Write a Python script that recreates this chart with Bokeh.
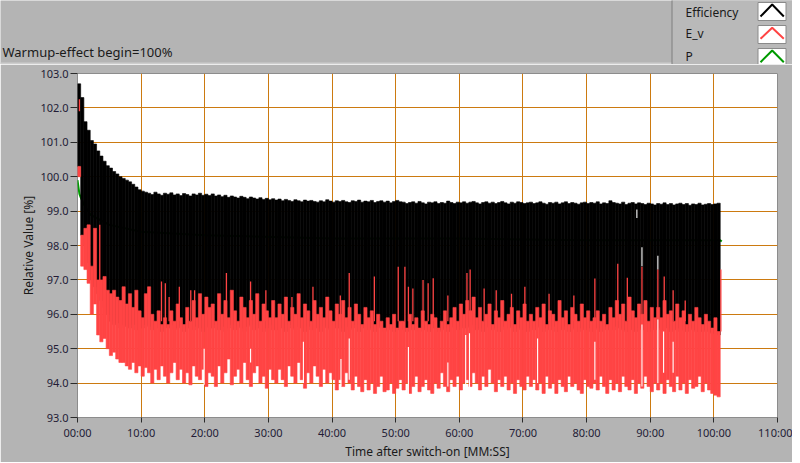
import numpy as np
from bokeh.plotting import figure
from bokeh.layouts import column
from bokeh.models import Range1d, FixedTicker
from bokeh.core.properties import value
from bokeh.embed import file_html
from bokeh.resources import INLINE

# ---------------- data ----------------
BIN = 0.5  # minutes per column

# Efficiency (black) upper envelope per half-minute column
eff_hi = [
    102.70, 102.30, 101.60, 101.35, 101.05, 100.95, 100.75, 100.60, 100.45, 100.32,
    100.25, 100.15, 100.08, 100.00, 99.95, 99.90, 99.85, 99.78, 99.70, 99.62, 99.58, 99.55,
    99.52, 99.48, 99.55, 99.50, 99.46, 99.52, 99.49, 99.53, 99.47, 99.50, 99.45, 99.51, 99.48, 99.44, 99.50, 99.47, 99.52, 99.46, 99.49, 99.45,
    99.50, 99.44, 99.47, 99.42, 99.46, 99.40, 99.44, 99.41, 99.38, 99.43, 99.40, 99.36, 99.41, 99.38, 99.35, 99.39, 99.34, 99.37, 99.33, 99.36,
    99.32, 99.35, 99.30, 99.34, 99.31, 99.28, 99.33, 99.30, 99.27, 99.32, 99.29, 99.31, 99.28, 99.26, 99.30, 99.27, 99.33, 99.29, 99.26, 99.30,
    99.28, 99.31, 99.27, 99.25, 99.30, 99.28, 99.32, 99.26, 99.29, 99.27, 99.31, 99.25, 99.28, 99.30, 99.26, 99.29, 99.24, 99.28, 99.31, 99.27,
    99.26, 99.22, 99.25, 99.27, 99.23, 99.28, 99.24, 99.21, 99.26, 99.24, 99.27, 99.22, 99.25, 99.23, 99.29, 99.25, 99.22, 99.26, 99.24, 99.27,
    99.23, 99.26, 99.28, 99.24, 99.21, 99.25, 99.27, 99.23, 99.26, 99.22, 99.25, 99.28, 99.24, 99.21, 99.26, 99.23, 99.27, 99.25, 99.22, 99.24,
    99.26, 99.22, 99.24, 99.27, 99.23, 99.20, 99.25, 99.23, 99.26, 99.21, 99.24, 99.27, 99.22, 99.25, 99.23, 99.20, 99.24, 99.26, 99.22, 99.25,
    99.23, 99.27, 99.21, 99.24, 99.22, 99.30, 99.25, 99.23, 99.21, 99.26, 99.19, 99.23, 99.25, 99.21, 99.24, 99.22, 99.19, 99.23, 99.21, 99.18,
    99.22, 99.20, 99.24, 99.19, 99.22, 99.18, 99.21, 99.23, 99.19, 99.22, 99.17, 99.21, 99.19, 99.23, 99.18, 99.20, 99.22, 99.19, 99.21, 99.23,
]
# Efficiency (black) lower envelope
eff_lo = [
    100.30, 98.30, 98.00, 97.50, 97.00, 96.80, 96.60, 96.40, 96.20, 96.00,
    95.80, 95.70, 95.75, 95.60, 95.70, 95.65, 95.60, 95.70, 95.55, 95.65, 95.60, 95.70,
    95.65, 95.55, 95.70, 95.60, 95.50, 95.65, 95.60, 95.70, 95.55, 95.60, 95.65, 95.50, 95.60, 95.70, 95.55, 95.65, 95.60, 95.50, 95.65, 95.60,
    95.60, 95.70, 95.55, 95.65, 95.50, 95.60, 95.70, 95.55, 95.65, 95.60, 95.50, 95.65, 95.70, 95.55, 95.60, 95.65, 95.50, 95.60, 95.70, 95.55,
    95.55, 95.65, 95.60, 95.50, 95.70, 95.60, 95.55, 95.65, 95.60, 95.50, 95.65, 95.55, 95.70, 95.60, 95.50, 95.65, 95.60, 95.55, 95.70, 95.60,
    95.60, 95.50, 95.65, 95.55, 95.60, 95.70, 95.50, 95.60, 95.65, 95.55, 95.60, 95.50, 95.65, 95.60, 95.50, 95.55, 95.60, 95.50, 95.55, 95.60,
    95.55, 95.50, 95.60, 95.55, 95.65, 95.50, 95.60, 95.55, 95.50, 95.60, 95.65, 95.50, 95.55, 95.60, 95.50, 95.65, 95.60, 95.55, 95.65, 95.60,
    95.65, 95.60, 95.70, 95.55, 95.60, 95.50, 95.65, 95.60, 95.55, 95.60, 95.50, 95.65, 95.55, 95.60, 95.65, 95.50, 95.60, 95.55, 95.65, 95.50,
    95.60, 95.55, 95.65, 95.60, 95.50, 95.60, 95.55, 95.65, 95.50, 95.60, 95.55, 95.65, 95.50, 95.60, 95.55, 95.50, 95.60, 95.55, 95.60, 95.50,
    95.55, 95.60, 95.50, 95.65, 95.55, 95.60, 95.55, 95.65, 95.60, 95.55, 95.50, 95.60, 95.55, 95.50, 95.60, 95.55, 95.65, 95.50, 95.60, 95.55,
    95.60, 95.55, 95.65, 95.60, 95.50, 95.55, 95.60, 95.50, 95.55, 95.50, 95.60, 95.55, 95.50, 95.60, 95.50, 95.55, 95.50, 95.45, 95.50, 95.40,
]
# E_v (red) upper and lower envelope per column
ev_hi = [
    100.30, 98.30, 98.50, 98.60, 97.40, 98.50, 97.00, 97.00, 97.10, 96.70,
    96.60, 96.70, 96.50, 96.40, 96.80, 96.30, 96.60, 96.20, 96.70, 96.10, 95.90, 96.60,
    96.80, 96.00, 95.80, 96.10, 95.70, 95.90, 95.70, 96.10, 95.80, 96.30, 95.90, 95.70, 96.20, 95.80, 96.40, 95.90, 96.60, 96.00, 96.50, 96.20,
    96.30, 95.80, 96.60, 96.00, 96.40, 95.90, 96.70, 96.10, 95.80, 96.50, 96.20, 95.90, 96.40, 96.00, 96.60, 95.80, 96.30, 96.10, 95.90, 96.40,
    95.90, 96.30, 96.00, 96.50, 95.80, 96.20, 96.00, 96.60, 95.90, 96.30, 96.10, 95.80, 96.40, 96.00, 96.20, 95.90, 96.50, 96.10, 95.80, 96.30,
    96.00, 96.40, 95.90, 96.20, 95.80, 96.30, 96.00, 95.70, 96.20, 95.90, 96.10, 95.70, 96.00, 95.80, 95.60, 95.90, 95.70, 96.00, 95.60, 95.80,
    95.80, 95.60, 96.00, 95.70, 95.90, 95.60, 96.10, 95.80, 95.70, 96.00, 95.90, 95.60, 95.80, 96.10, 95.70, 95.90, 96.20, 95.80, 96.30, 96.00,
    96.40, 96.10, 96.50, 95.90, 96.20, 95.80, 96.00, 96.30, 95.70, 96.10, 95.90, 96.40, 95.80, 96.00, 96.20, 95.70, 96.10, 95.90, 96.30, 95.80,
    96.00, 95.80, 96.20, 95.90, 96.30, 95.70, 96.10, 96.00, 95.80, 96.40, 95.90, 96.10, 95.70, 96.20, 96.00, 95.80, 96.30, 95.90, 96.10, 95.80,
    95.90, 96.10, 95.80, 96.00, 95.70, 96.20, 95.90, 96.40, 96.00, 96.30, 95.80, 96.50, 96.10, 95.90, 96.30, 96.00, 96.40, 95.80, 96.20, 95.90,
    96.20, 95.90, 96.40, 96.00, 96.10, 95.80, 96.30, 95.90, 96.10, 95.70, 96.00, 95.80, 96.20, 95.90, 95.70, 96.00, 95.80, 95.60, 95.90, 95.50,
]
ev_lo = [
    100.00, 97.40, 97.30, 96.90, 96.00, 96.30, 95.40, 95.20, 95.30, 95.00,
    94.80, 94.90, 94.70, 94.60, 94.60, 94.50, 94.40, 94.60, 94.30, 94.50, 94.20, 94.45,
    94.30, 94.00, 94.40, 94.10, 94.50, 94.20, 94.00, 94.30, 94.60, 94.10, 94.40, 94.00, 94.30, 93.95, 94.50, 94.20, 94.10, 94.40, 93.90, 94.30,
    94.20, 93.90, 94.50, 94.00, 94.30, 94.70, 93.95, 94.20, 94.40, 94.00, 94.60, 94.10, 93.90, 94.30, 94.50, 94.00, 94.20, 93.85, 94.40, 94.10,
    94.00, 94.40, 94.10, 93.90, 94.50, 94.20, 94.00, 94.60, 94.10, 93.85, 94.30, 94.00, 94.50, 94.20, 93.90, 94.40, 94.00, 94.30, 94.10, 93.80,
    94.10, 93.90, 94.30, 94.00, 93.80, 94.20, 93.90, 93.75, 94.10, 93.80, 94.00, 93.70, 93.90, 94.20, 93.75, 93.80, 94.00, 93.70, 93.85, 94.10,
    93.80, 94.00, 93.70, 93.90, 94.20, 93.75, 93.90, 94.10, 93.80, 93.70, 94.00, 93.85, 94.30, 93.90, 93.75, 94.10, 93.90, 94.20, 93.80, 94.00,
    94.10, 93.90, 94.30, 94.00, 93.80, 94.20, 93.90, 94.40, 94.00, 93.75, 94.10, 93.90, 94.20, 93.80, 94.00, 93.70, 94.10, 93.90, 93.80, 94.20,
    93.90, 94.10, 93.80, 94.00, 93.70, 94.20, 93.85, 94.00, 93.70, 94.10, 93.90, 93.75, 94.20, 93.90, 94.00, 93.80, 93.70, 94.10, 93.90, 93.85,
    94.00, 93.80, 94.20, 93.90, 93.70, 94.10, 93.80, 94.00, 93.75, 94.20, 93.90, 93.80, 94.10, 93.70, 94.00, 93.85, 94.20, 93.90, 93.75, 94.00,
    93.80, 94.00, 93.70, 94.10, 93.90, 93.75, 94.20, 93.80, 94.00, 93.70, 94.10, 93.85, 93.90, 94.20, 93.75, 94.00, 93.80, 93.70, 93.65, 93.60,
]
# thin red spikes (E_v single samples reaching higher)
spike_t = [0.3, 3.5, 13.2, 13.8, 14.4, 16.0, 17.8, 18.4, 23.4, 27.2, 29.6, 33.7, 37.0, 41.3, 42.7,
           46.65, 50.4, 51.45, 52.0, 52.7, 54.3, 55.1, 55.9, 58.2, 61.2, 61.7, 63.9, 65.8, 68.2,
           70.3, 74.1, 78.0, 81.3, 84.9, 86.4, 88.7, 91.2, 92.2, 93.6, 95.5]
spike_lo = [101.90, 96.50, 95.80, 95.80, 95.80, 95.80, 95.80, 95.80, 95.80, 95.80, 95.80, 95.80, 95.80, 95.80, 95.80,
            95.80, 95.80, 95.80, 95.80, 95.80, 95.80, 95.80, 95.80, 95.80, 95.80, 95.80, 95.80, 95.80, 95.80,
            95.80, 95.80, 95.80, 95.80, 95.80, 95.80, 95.80, 95.80, 95.80, 95.80, 95.80]
spike_hi = [102.25, 98.60, 96.95, 96.90, 96.50, 96.80, 96.70, 96.70, 97.20, 96.95, 96.70, 96.50, 96.80, 96.55, 97.20,
            97.10, 97.38, 97.38, 96.80, 96.75, 97.00, 96.90, 97.05, 96.55, 97.20, 97.30, 96.75, 96.70, 96.60,
            96.80, 96.60, 96.55, 97.04, 97.47, 97.06, 97.38, 97.30, 97.10, 96.70, 96.40]
# gaps (no sample drawn) within the bands
gap_t = [19.9, 27.2, 35.5, 41.4, 42.7, 52.0, 58.2, 61.0, 61.6, 72.3, 81.3, 87.9, 88.7, 88.7, 91.2, 91.2, 92.1, 93.6]
gap_lo = [93.95, 94.60, 94.00, 93.90, 94.10, 93.60, 93.90, 93.95, 93.85, 94.00, 94.10, 98.80, 97.40, 93.90, 97.30, 94.00, 94.30, 94.30]
gap_hi = [95.00, 95.00, 95.20, 94.70, 95.30, 95.05, 94.60, 95.40, 95.45, 95.30, 95.20, 99.05, 97.95, 95.70, 97.70, 95.85, 95.50, 95.20]
# last E_v sample
ev_tail_t = [101.1, 101.1]
ev_tail_v = [95.5, 97.3]
# P (green), mostly hidden beneath the other two traces
p_t = [0.0, 0.15, 0.3, 0.5, 1.0, 2.0, 5.0, 10.0, 20.0, 40.0, 60.0, 80.0, 100.0, 101.0, 101.25]
p_v = [99.90, 99.70, 99.50, 99.40, 99.20, 98.90, 98.60, 98.40, 98.30, 98.20, 98.20, 98.15, 98.15, 98.15, 98.12]

x_ticks = [0, 10, 20, 30, 40, 50, 60, 70, 80, 90, 100, 110]
x_tick_labels = ["00:00", "10:00", "20:00", "30:00", "40:00", "50:00", "60:00",
                 "70:00", "80:00", "90:00", "100:00", "110:00"]
y_ticks = [93, 94, 95, 96, 97, 98, 99, 100, 101, 102, 103]
y_tick_labels = ["93.0", "94.0", "95.0", "96.0", "97.0", "98.0", "99.0",
                 "100.0", "101.0", "102.0", "103.0"]

series_names = ["Efficiency", "E_v", "P"]
series_colors = ["#000000", "#FF4444", "#009A00"]

title_text = "Warmup-effect begin=100%"
x_label = "Time after switch-on [MM:SS]"
y_label = "Relative Value [%]"

# ---------------- styling ----------------
BG = "#B4B4B4"
GRID = "#CC7A10"
FONT = "Noto Sans"
TXT = "#1A1A1A"
TICKTXT = "#231C36"

centers = np.arange(len(eff_hi)) * BIN + BIN / 2

# ---------------- header (title + legend) ----------------
W = 792
HH = 64
h = figure(frame_width=W, frame_height=HH, x_range=Range1d(0, W), y_range=Range1d(0, HH),
           x_axis_type=None, y_axis_type=None, min_border=0,
           toolbar_location=None, output_backend="svg",
           background_fill_color=BG, border_fill_color=BG, outline_line_color=None)
h.grid.visible = False
# light top edge of the graph panel
h.segment(x0=[0], x1=[W], y0=[1], y1=[1], line_color="#CDCDCD", line_width=2)
h.text(x=[2], y=[13], text=[title_text], text_font=value(FONT), text_font_size="13px",
       text_color=TXT, text_baseline="middle", text_align="left")
# legend panel
h.quad(left=[671.5], right=[W + 2], top=[HH + 9], bottom=[-5], fill_color="#B9B9B9",
       line_color="#7E7E7E", line_width=1)
leg_label_y = [52.5, 31, 8]
h.text(x=[685] * 3, y=leg_label_y, text=series_names, text_font=value(FONT),
       text_font_size="12px", text_color=TXT, text_baseline="middle", text_align="left")
box_bottom = [44, 21, -1]
box_top = [62, 39, 16]
h.quad(left=[757.5] * 3, right=[785.5] * 3, bottom=box_bottom, top=box_top,
       fill_color="white", line_color="#8A8A8A", line_width=1)
chev_xs = [[760, 771.7, 783.3]] * 3
chev_ys = [[48, 60, 48], [25.7, 36.7, 25.7], [2.3, 14, 2.3]]
h.multi_line(xs=chev_xs, ys=chev_ys, line_color=series_colors, line_width=2)

# ---------------- main plot ----------------
p = figure(frame_width=700, frame_height=344,
           min_border_left=77, min_border_right=15, min_border_top=9, min_border_bottom=38,
           x_range=Range1d(0, 110), y_range=Range1d(93, 103),
           toolbar_location=None, output_backend="svg",
           background_fill_color="white", border_fill_color=BG,
           outline_line_color="#8C8C8C")

for fig in (h, p):
    if "frame_align" in fig.properties():
        fig.frame_align = False

p.xgrid.grid_line_color = GRID
p.ygrid.grid_line_color = GRID
p.xgrid.grid_line_width = 1
p.ygrid.grid_line_width = 1

p.xaxis.ticker = FixedTicker(ticks=x_ticks)
p.yaxis.ticker = FixedTicker(ticks=y_ticks)
p.xaxis.major_label_overrides = dict(zip(x_ticks, x_tick_labels))
p.yaxis.major_label_overrides = dict(zip(y_ticks, y_tick_labels))

for ax in (p.xaxis, p.yaxis):
    ax.axis_line_color = None
    ax.major_tick_in = 0
    ax.minor_tick_line_color = None
    ax.major_tick_line_color = "#2A2A2A"
    ax.major_label_text_font = FONT
    ax.major_label_text_font_size = "11px"
    ax.major_label_text_color = TICKTXT
    ax.axis_label_text_font = FONT
    ax.axis_label_text_font_size = "12px"
    ax.axis_label_text_font_style = "normal"
    ax.axis_label_text_color = TXT

p.yaxis.major_tick_out = 7
p.yaxis.major_label_standoff = 2
p.yaxis.axis_label_standoff = 0
p.xaxis.major_tick_out = 5
p.xaxis.major_label_standoff = 2
p.xaxis.axis_label_standoff = 0
p.xaxis.axis_label = x_label
p.yaxis.axis_label = y_label

# P beneath
p.line(p_t, p_v, line_color=series_colors[2], line_width=2)
# Efficiency band
p.vbar(x=centers, width=BIN, top=eff_hi, bottom=eff_lo,
       fill_color=series_colors[0], line_color=series_colors[0], line_width=0.6)
# E_v band
p.vbar(x=centers, width=BIN, top=ev_hi, bottom=ev_lo,
       fill_color=series_colors[1], line_color=series_colors[1], line_width=0.6)
p.segment(x0=spike_t, x1=spike_t, y0=spike_lo, y1=spike_hi,
          line_color=series_colors[1], line_width=1.3)
p.segment(x0=gap_t, x1=gap_t, y0=gap_lo, y1=gap_hi, line_color="white", line_width=1.1)
p.line(ev_tail_t, ev_tail_v, line_color=series_colors[1], line_width=1.3)

layout = column(h, p)
open("out.html", "w").write(file_html(layout, INLINE))
